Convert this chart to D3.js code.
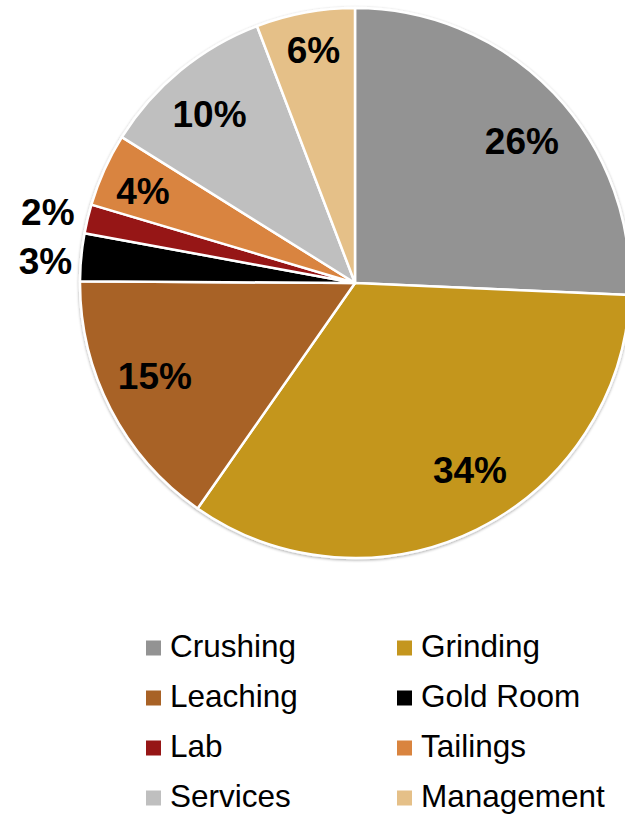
<!DOCTYPE html>
<html>
<head>
<meta charset="utf-8">
<script src="https://cdn.jsdelivr.net/npm/d3@7"></script>
<style>
  body { margin: 0; background: #fff; }
  svg { display: block; font-family: "Liberation Sans", Arial, sans-serif; }
</style>
</head>
<body>
<svg id="chart"></svg>
<script>
var width = 625;
var height = 815;

var categories = ['Crushing', 'Grinding', 'Leaching', 'Gold Room', 'Lab', 'Tailings', 'Services', 'Management'];
var shares = [25.7, 34.0, 15.4, 2.8, 1.7, 4.3, 10.3, 5.8];
var labels = ['26%', '34%', '15%', '3%', '2%', '4%', '10%', '6%'];
var colors = ['#939393', '#c4961e', '#a86226', '#000000', '#961616', '#d9843f', '#bfbfbf', '#e5c088'];

// small hand nudges so labels sit where the original "best fit" put them
var labelNudge = [[6.5, 10.7], [16.7, -12], [-3, -9], [0, 7], [-4.8, 1.7], [-9.7, -1], [-4.5, 2.2], [-1.3, -15]];

var cx = 355, cy = 283, radius = 275;

var data = categories.map((c, i) => ({ name: c, value: shares[i], label: labels[i], color: colors[i], nudge: labelNudge[i] }));

var svg = d3.select('#chart')
    .attr('width', width)
    .attr('height', height);

var defs = svg.append('defs');
var shadow = defs.append('filter').attr('id', 'shadow')
    .attr('x', '-10%').attr('y', '-10%').attr('width', '120%').attr('height', '120%');
shadow.append('feGaussianBlur').attr('in', 'SourceAlpha').attr('stdDeviation', 1.5);
shadow.append('feOffset').attr('dx', 0).attr('dy', 1).attr('result', 'b');
shadow.append('feComponentTransfer').append('feFuncA').attr('type', 'linear').attr('slope', 0.35);
var merge = shadow.append('feMerge');
merge.append('feMergeNode');
merge.append('feMergeNode').attr('in', 'SourceGraphic');

var pie = d3.pie().sort(null).value(d => d.value);
var arc = d3.arc().innerRadius(0).outerRadius(radius);
var inLabel = d3.arc().innerRadius(222).outerRadius(222);
var outLabel = d3.arc().innerRadius(311).outerRadius(311);

var arcs = pie(data);

var g = svg.append('g')
    .attr('transform', 'translate(' + cx + ',' + cy + ')');

g.append('g')
    .attr('filter', 'url(#shadow)')
    .selectAll('path')
    .data(arcs)
    .enter()
    .append('path')
        .attr('d', arc)
        .attr('fill', d => d.data.color)
        .attr('stroke', '#fff')
        .attr('stroke-width', 2.5)
        .attr('stroke-linejoin', 'round');

g.selectAll('text.pct')
    .data(arcs)
    .enter()
    .append('text')
        .attr('class', 'pct')
        .attr('transform', d => {
            var p = (d.data.value < 3.5 ? outLabel : inLabel).centroid(d);
            return 'translate(' + (p[0] + d.data.nudge[0]) + ',' + (p[1] + d.data.nudge[1]) + ')';
        })
        .attr('text-anchor', 'middle')
        .attr('dy', '0.36em')
        .style('font-size', '37px')
        .style('font-weight', 'bold')
        .style('fill', '#000')
        .text(d => d.data.label);

// legend
var legend = svg.append('g');
var cols = [146, 397];
var rows = [647, 697, 747, 797];

var item = legend.selectAll('g')
    .data(data)
    .enter()
    .append('g')
        .attr('transform', (d, i) => 'translate(' + cols[i % 2] + ',' + rows[Math.floor(i / 2)] + ')');

item.append('rect')
    .attr('x', 0)
    .attr('y', -6.5)
    .attr('width', 15)
    .attr('height', 15)
    .attr('fill', d => d.color);

item.append('text')
    .attr('x', 24)
    .attr('dy', '0.33em')
    .style('font-size', '31.5px')
    .style('fill', '#000')
    .text(d => d.name);
</script>
</body>
</html>
